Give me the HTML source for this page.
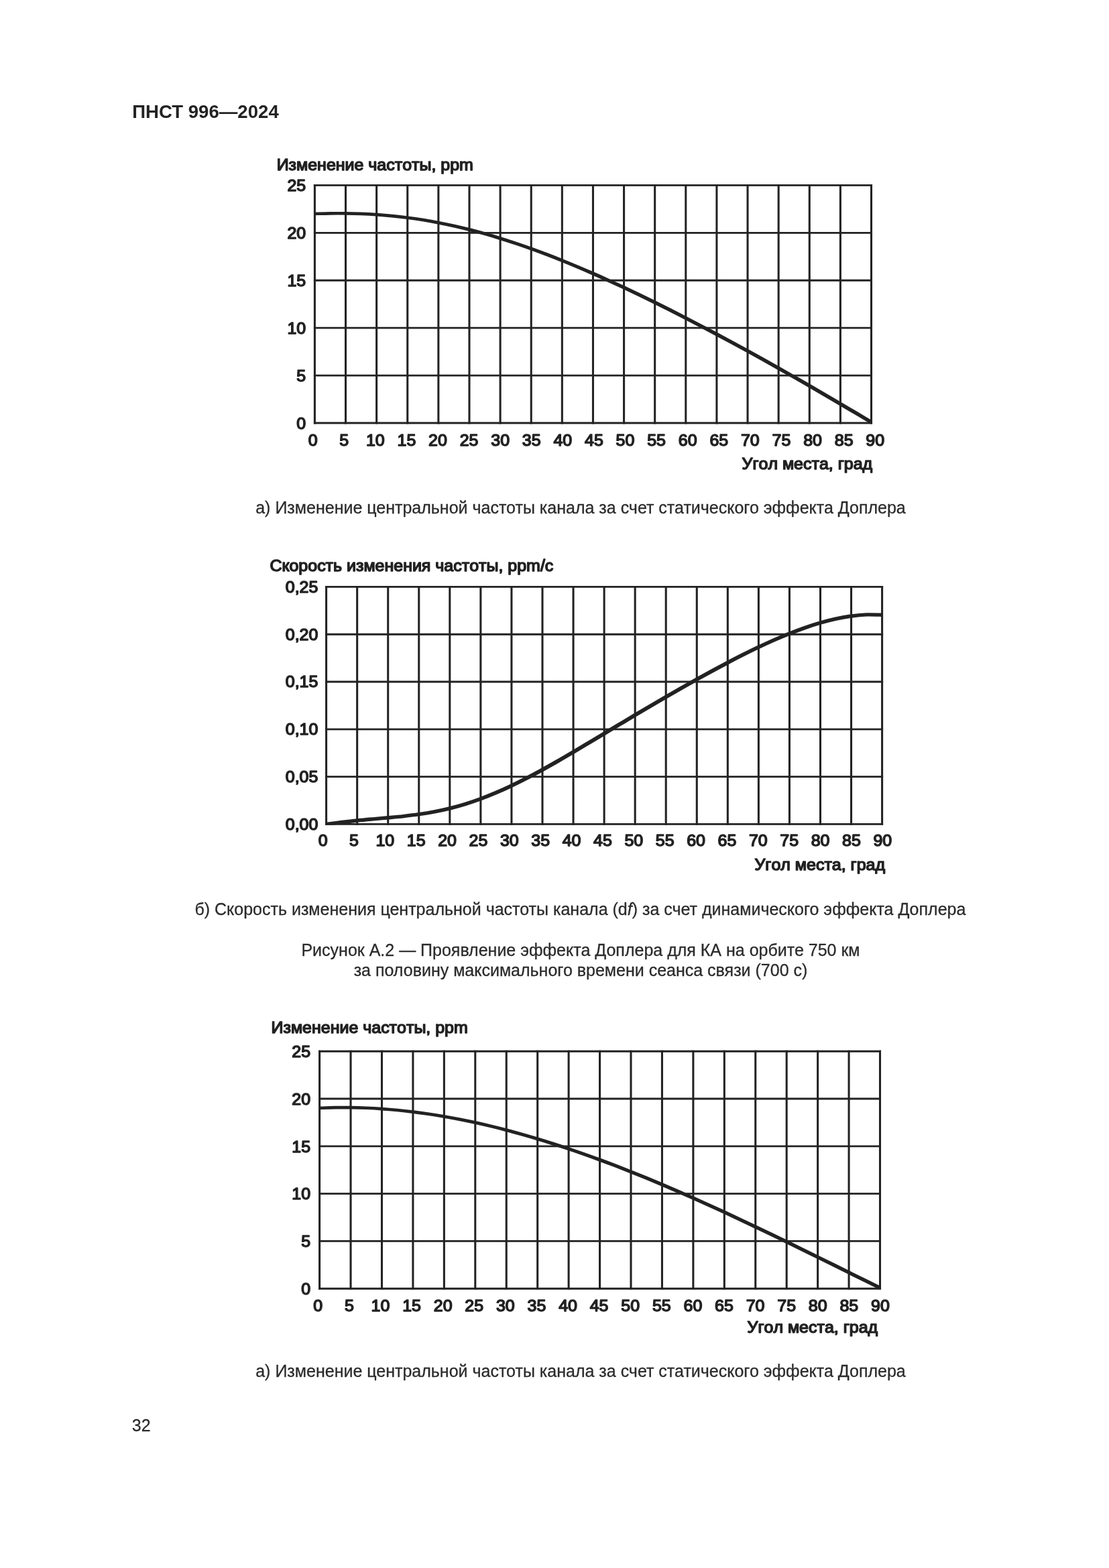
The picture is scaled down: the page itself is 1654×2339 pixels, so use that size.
<!DOCTYPE html>
<html lang="ru"><head><meta charset="utf-8"><title>ПНСТ 996—2024</title>
<style>
html,body{margin:0;padding:0;background:#fff}
body{width:1654px;height:2339px;position:relative;overflow:hidden;font-family:"Liberation Sans",sans-serif;color:#2b2b2b}
.t{position:absolute;white-space:nowrap;font-size:25px;line-height:30px;margin:0;-webkit-text-stroke:0.3px #2b2b2b}
.c{left:198px;width:1336px;text-align:center}
.hdr{left:197.2px;top:149.1px;font-weight:bold;font-size:27.6px;line-height:36px;color:#222;-webkit-text-stroke:0}
svg{position:absolute;left:0;top:0}
.ct{font-family:"Liberation Sans",sans-serif;font-size:24.0px;font-kerning:none;fill:#222;stroke:#222;stroke-width:1.5px;stroke-linejoin:round}
</style></head><body>
<div class="t hdr">ПНСТ 996—2024</div>
<svg width="1654" height="2339" viewBox="0 0 1654 2339">
<path d="M469.4 274.97V632.42M515.52 274.97V632.42M561.63 274.97V632.42M607.75 274.97V632.42M653.87 274.97V632.42M699.98 274.97V632.42M746.1 274.97V632.42M792.22 274.97V632.42M838.33 274.97V632.42M884.45 274.97V632.42M930.57 274.97V632.42M976.68 274.97V632.42M1022.8 274.97V632.42M1068.92 274.97V632.42M1115.03 274.97V632.42M1161.15 274.97V632.42M1207.27 274.97V632.42M1253.38 274.97V632.42M1299.5 274.97V632.42" fill="none" stroke="#222" stroke-width="3.05"/>
<path d="M467.88 276.4H1301.03M467.88 347.32H1301.03M467.88 418.24H1301.03M467.88 489.16H1301.03M467.88 560.08H1301.03M467.88 631H1301.03" fill="none" stroke="#222" stroke-width="2.85"/>
<clipPath id="clip276"><rect x="467.88" y="274.97" width="833.15" height="357.45"/></clipPath>
<g clip-path="url(#clip276)"><path transform="scale(1.6 1)" d="M293.37 318.85 C295.78 318.77 302.98 318.43 307.79 318.34 C312.59 318.25 317.39 318.24 322.2 318.33 C327 318.43 331.81 318.61 336.61 318.91 C341.41 319.21 346.22 319.62 351.02 320.14 C355.82 320.67 360.63 321.3 365.43 322.06 C370.24 322.82 375.04 323.7 379.84 324.7 C384.65 325.7 389.45 326.82 394.26 328.07 C399.06 329.31 403.86 330.68 408.67 332.17 C413.47 333.66 418.27 335.27 423.08 336.99 C427.88 338.71 432.69 340.56 437.49 342.51 C442.29 344.46 447.1 346.53 451.9 348.71 C456.7 350.88 461.51 353.17 466.31 355.55 C471.12 357.93 475.92 360.42 480.72 363 C485.53 365.58 490.33 368.26 495.14 371.02 C499.94 373.78 504.74 376.64 509.55 379.57 C514.35 382.51 519.15 385.53 523.96 388.62 C528.76 391.71 533.57 394.89 538.37 398.12 C543.17 401.36 547.98 404.67 552.78 408.04 C557.59 411.41 562.39 414.85 567.19 418.34 C572 421.83 576.8 425.38 581.6 428.98 C586.41 432.58 591.21 436.24 596.02 439.94 C600.82 443.64 605.62 447.4 610.43 451.19 C615.23 454.98 620.03 458.82 624.84 462.7 C629.64 466.58 634.45 470.5 639.25 474.46 C644.05 478.42 648.86 482.41 653.66 486.44 C658.47 490.47 663.27 494.54 668.07 498.63 C672.88 502.73 677.68 506.86 682.48 511.02 C687.29 515.18 692.09 519.38 696.9 523.6 C701.7 527.82 706.5 532.08 711.31 536.35 C716.11 540.63 720.91 544.94 725.72 549.28 C730.52 553.61 735.33 557.98 740.13 562.36 C744.93 566.75 749.74 571.16 754.54 575.6 C759.35 580.03 764.15 584.49 768.95 588.97 C773.76 593.45 778.56 597.95 783.36 602.46 C788.17 606.97 792.97 611.51 797.78 616.05 C802.58 620.59 809.79 627.43 812.19 629.71" fill="none" stroke="#222" stroke-width="4.7" stroke-linejoin="round"/></g>
<text class="ct" transform="translate(412.65 254.01) scale(1.041 1)">Изменение частоты, ppm</text>
<text class="ct" text-anchor="end" transform="translate(456.2 285.25) scale(1.041 1)">25</text>
<text class="ct" text-anchor="end" transform="translate(456.2 356.17) scale(1.041 1)">20</text>
<text class="ct" text-anchor="end" transform="translate(456.2 427.09) scale(1.041 1)">15</text>
<text class="ct" text-anchor="end" transform="translate(456.2 498.01) scale(1.041 1)">10</text>
<text class="ct" text-anchor="end" transform="translate(456.2 568.93) scale(1.041 1)">5</text>
<text class="ct" text-anchor="end" transform="translate(456.2 639.85) scale(1.041 1)">0</text>
<text class="ct" text-anchor="middle" transform="translate(466.6 665.2) scale(1.041 1)">0</text>
<text class="ct" text-anchor="middle" transform="translate(513.19 665.2) scale(1.041 1)">5</text>
<text class="ct" text-anchor="middle" transform="translate(559.78 665.2) scale(1.041 1)">10</text>
<text class="ct" text-anchor="middle" transform="translate(606.37 665.2) scale(1.041 1)">15</text>
<text class="ct" text-anchor="middle" transform="translate(652.96 665.2) scale(1.041 1)">20</text>
<text class="ct" text-anchor="middle" transform="translate(699.55 665.2) scale(1.041 1)">25</text>
<text class="ct" text-anchor="middle" transform="translate(746.14 665.2) scale(1.041 1)">30</text>
<text class="ct" text-anchor="middle" transform="translate(792.73 665.2) scale(1.041 1)">35</text>
<text class="ct" text-anchor="middle" transform="translate(839.32 665.2) scale(1.041 1)">40</text>
<text class="ct" text-anchor="middle" transform="translate(885.91 665.2) scale(1.041 1)">45</text>
<text class="ct" text-anchor="middle" transform="translate(932.5 665.2) scale(1.041 1)">50</text>
<text class="ct" text-anchor="middle" transform="translate(979.09 665.2) scale(1.041 1)">55</text>
<text class="ct" text-anchor="middle" transform="translate(1025.68 665.2) scale(1.041 1)">60</text>
<text class="ct" text-anchor="middle" transform="translate(1072.27 665.2) scale(1.041 1)">65</text>
<text class="ct" text-anchor="middle" transform="translate(1118.86 665.2) scale(1.041 1)">70</text>
<text class="ct" text-anchor="middle" transform="translate(1165.45 665.2) scale(1.041 1)">75</text>
<text class="ct" text-anchor="middle" transform="translate(1212.04 665.2) scale(1.041 1)">80</text>
<text class="ct" text-anchor="middle" transform="translate(1258.63 665.2) scale(1.041 1)">85</text>
<text class="ct" text-anchor="middle" transform="translate(1305.22 665.2) scale(1.041 1)">90</text>
<text class="ct" transform="translate(1106.56 700.12) scale(1.041 1)">Угол места, град</text>
<path d="M486.6 873.98V1230.83M532.66 873.98V1230.83M578.71 873.98V1230.83M624.77 873.98V1230.83M670.82 873.98V1230.83M716.88 873.98V1230.83M762.93 873.98V1230.83M808.99 873.98V1230.83M855.04 873.98V1230.83M901.1 873.98V1230.83M947.16 873.98V1230.83M993.21 873.98V1230.83M1039.27 873.98V1230.83M1085.32 873.98V1230.83M1131.38 873.98V1230.83M1177.43 873.98V1230.83M1223.49 873.98V1230.83M1269.54 873.98V1230.83M1315.6 873.98V1230.83" fill="none" stroke="#222" stroke-width="3.05"/>
<path d="M485.08 875.4H1317.12M485.08 946.2H1317.12M485.08 1017H1317.12M485.08 1087.8H1317.12M485.08 1158.6H1317.12M485.08 1229.4H1317.12" fill="none" stroke="#222" stroke-width="2.85"/>
<clipPath id="clip875"><rect x="485.08" y="873.98" width="832.05" height="356.85"/></clipPath>
<g clip-path="url(#clip875)"><path transform="scale(1.3 1)" d="M374.31 1229.37 C377.26 1228.89 386.12 1227.43 392.02 1226.54 C397.93 1225.64 403.83 1224.78 409.74 1223.99 C415.64 1223.2 421.54 1222.51 427.45 1221.81 C433.35 1221.12 439.26 1220.5 445.16 1219.79 C451.07 1219.08 456.97 1218.4 462.88 1217.55 C468.78 1216.7 474.69 1215.81 480.59 1214.69 C486.49 1213.58 492.4 1212.35 498.3 1210.87 C504.21 1209.39 510.11 1207.74 516.02 1205.83 C521.92 1203.92 527.83 1201.79 533.73 1199.42 C539.64 1197.05 545.54 1194.43 551.44 1191.6 C557.35 1188.77 563.25 1185.69 569.16 1182.43 C575.06 1179.16 580.97 1175.66 586.87 1172.02 C592.78 1168.37 598.68 1164.51 604.59 1160.55 C610.49 1156.58 616.39 1152.44 622.3 1148.23 C628.2 1144.01 634.11 1139.65 640.01 1135.26 C645.92 1130.86 651.82 1126.35 657.73 1121.84 C663.63 1117.32 669.54 1112.73 675.44 1108.14 C681.34 1103.55 687.25 1098.93 693.15 1094.32 C699.06 1089.71 704.96 1085.08 710.87 1080.48 C716.77 1075.88 722.68 1071.28 728.58 1066.72 C734.49 1062.15 740.39 1057.6 746.29 1053.08 C752.2 1048.57 758.1 1044.08 764.01 1039.63 C769.91 1035.18 775.82 1030.76 781.72 1026.38 C787.63 1022.01 793.53 1017.67 799.44 1013.4 C805.34 1009.12 811.25 1004.88 817.15 1000.71 C823.05 996.55 828.96 992.43 834.86 988.4 C840.77 984.38 846.67 980.41 852.58 976.56 C858.48 972.71 864.39 968.93 870.29 965.29 C876.2 961.65 882.1 958.11 888 954.74 C893.91 951.36 899.81 948.11 905.72 945.06 C911.62 942.01 917.53 939.1 923.43 936.43 C929.34 933.76 935.24 931.27 941.15 929.05 C947.05 926.84 952.95 924.83 958.86 923.15 C964.76 921.48 970.67 920.03 976.57 918.99 C982.48 917.95 988.38 917.18 994.29 916.9 C1000.19 916.62 1009.05 917.25 1012 917.32" fill="none" stroke="#222" stroke-width="5.4" stroke-linejoin="round"/></g>
<text class="ct" transform="translate(402.51 851.85) scale(1.041 1)">Скорость изменения частоты, ppm/c</text>
<text class="ct" text-anchor="end" transform="translate(474.4 883.85) scale(1.041 1)">0,25</text>
<text class="ct" text-anchor="end" transform="translate(474.4 954.65) scale(1.041 1)">0,20</text>
<text class="ct" text-anchor="end" transform="translate(474.4 1025.45) scale(1.041 1)">0,15</text>
<text class="ct" text-anchor="end" transform="translate(474.4 1096.25) scale(1.041 1)">0,10</text>
<text class="ct" text-anchor="end" transform="translate(474.4 1167.05) scale(1.041 1)">0,05</text>
<text class="ct" text-anchor="end" transform="translate(474.4 1237.85) scale(1.041 1)">0,00</text>
<text class="ct" text-anchor="middle" transform="translate(481.6 1262.35) scale(1.041 1)">0</text>
<text class="ct" text-anchor="middle" transform="translate(527.97 1262.35) scale(1.041 1)">5</text>
<text class="ct" text-anchor="middle" transform="translate(574.34 1262.35) scale(1.041 1)">10</text>
<text class="ct" text-anchor="middle" transform="translate(620.71 1262.35) scale(1.041 1)">15</text>
<text class="ct" text-anchor="middle" transform="translate(667.08 1262.35) scale(1.041 1)">20</text>
<text class="ct" text-anchor="middle" transform="translate(713.45 1262.35) scale(1.041 1)">25</text>
<text class="ct" text-anchor="middle" transform="translate(759.82 1262.35) scale(1.041 1)">30</text>
<text class="ct" text-anchor="middle" transform="translate(806.19 1262.35) scale(1.041 1)">35</text>
<text class="ct" text-anchor="middle" transform="translate(852.56 1262.35) scale(1.041 1)">40</text>
<text class="ct" text-anchor="middle" transform="translate(898.93 1262.35) scale(1.041 1)">45</text>
<text class="ct" text-anchor="middle" transform="translate(945.3 1262.35) scale(1.041 1)">50</text>
<text class="ct" text-anchor="middle" transform="translate(991.67 1262.35) scale(1.041 1)">55</text>
<text class="ct" text-anchor="middle" transform="translate(1038.04 1262.35) scale(1.041 1)">60</text>
<text class="ct" text-anchor="middle" transform="translate(1084.41 1262.35) scale(1.041 1)">65</text>
<text class="ct" text-anchor="middle" transform="translate(1130.78 1262.35) scale(1.041 1)">70</text>
<text class="ct" text-anchor="middle" transform="translate(1177.15 1262.35) scale(1.041 1)">75</text>
<text class="ct" text-anchor="middle" transform="translate(1223.52 1262.35) scale(1.041 1)">80</text>
<text class="ct" text-anchor="middle" transform="translate(1269.89 1262.35) scale(1.041 1)">85</text>
<text class="ct" text-anchor="middle" transform="translate(1316.26 1262.35) scale(1.041 1)">90</text>
<text class="ct" transform="translate(1125.48 1298.05) scale(1.041 1)">Угол места, град</text>
<path d="M476.6 1566.78V1923.62M523.04 1566.78V1923.62M569.48 1566.78V1923.62M615.92 1566.78V1923.62M662.36 1566.78V1923.62M708.79 1566.78V1923.62M755.23 1566.78V1923.62M801.67 1566.78V1923.62M848.11 1566.78V1923.62M894.55 1566.78V1923.62M940.99 1566.78V1923.62M987.43 1566.78V1923.62M1033.87 1566.78V1923.62M1080.31 1566.78V1923.62M1126.74 1566.78V1923.62M1173.18 1566.78V1923.62M1219.62 1566.78V1923.62M1266.06 1566.78V1923.62M1312.5 1566.78V1923.62" fill="none" stroke="#222" stroke-width="3.05"/>
<path d="M475.08 1568.2H1314.03M475.08 1639H1314.03M475.08 1709.8H1314.03M475.08 1780.6H1314.03M475.08 1851.4H1314.03M475.08 1922.2H1314.03" fill="none" stroke="#222" stroke-width="2.85"/>
<clipPath id="clip1568"><rect x="475.08" y="1566.78" width="838.95" height="356.85"/></clipPath>
<g clip-path="url(#clip1568)"><path transform="scale(1.6 1)" d="M297.88 1652.93 C300.29 1652.81 307.55 1652.32 312.39 1652.19 C317.22 1652.06 322.06 1652.05 326.9 1652.15 C331.74 1652.25 336.57 1652.46 341.41 1652.78 C346.25 1653.11 351.09 1653.54 355.92 1654.08 C360.76 1654.62 365.6 1655.27 370.44 1656.01 C375.27 1656.76 380.11 1657.62 384.95 1658.57 C389.79 1659.52 394.62 1660.58 399.46 1661.72 C404.3 1662.87 409.13 1664.12 413.97 1665.46 C418.81 1666.8 423.65 1668.23 428.48 1669.75 C433.32 1671.27 438.16 1672.89 443 1674.58 C447.83 1676.28 452.67 1678.07 457.51 1679.93 C462.35 1681.8 467.18 1683.75 472.02 1685.78 C476.86 1687.81 481.7 1689.92 486.53 1692.1 C491.37 1694.28 496.21 1696.54 501.05 1698.87 C505.88 1701.21 510.72 1703.61 515.56 1706.08 C520.39 1708.56 525.23 1711.1 530.07 1713.71 C534.91 1716.31 539.74 1718.99 544.58 1721.73 C549.42 1724.46 554.26 1727.26 559.09 1730.12 C563.93 1732.97 568.77 1735.89 573.61 1738.86 C578.44 1741.83 583.28 1744.86 588.12 1747.93 C592.96 1751.01 597.79 1754.14 602.63 1757.32 C607.47 1760.5 612.3 1763.73 617.14 1767 C621.98 1770.27 626.82 1773.59 631.65 1776.95 C636.49 1780.31 641.33 1783.71 646.17 1787.15 C651 1790.59 655.84 1794.07 660.68 1797.58 C665.52 1801.09 670.35 1804.64 675.19 1808.22 C680.03 1811.8 684.87 1815.41 689.7 1819.05 C694.54 1822.69 699.38 1826.36 704.22 1830.05 C709.05 1833.74 713.89 1837.45 718.73 1841.19 C723.56 1844.92 728.4 1848.68 733.24 1852.45 C738.08 1856.22 742.91 1860.01 747.75 1863.81 C752.59 1867.6 757.43 1871.42 762.26 1875.24 C767.1 1879.05 771.94 1882.88 776.78 1886.71 C781.61 1890.54 786.45 1894.38 791.29 1898.21 C796.13 1902.04 800.96 1905.88 805.8 1909.7 C810.64 1913.52 817.89 1919.24 820.31 1921.15" fill="none" stroke="#222" stroke-width="4.7" stroke-linejoin="round"/></g>
<text class="ct" transform="translate(404.54 1540.85) scale(1.041 1)">Изменение частоты, ppm</text>
<text class="ct" text-anchor="end" transform="translate(463.1 1576.95) scale(1.041 1)">25</text>
<text class="ct" text-anchor="end" transform="translate(463.1 1647.75) scale(1.041 1)">20</text>
<text class="ct" text-anchor="end" transform="translate(463.1 1718.55) scale(1.041 1)">15</text>
<text class="ct" text-anchor="end" transform="translate(463.1 1789.35) scale(1.041 1)">10</text>
<text class="ct" text-anchor="end" transform="translate(463.1 1860.15) scale(1.041 1)">5</text>
<text class="ct" text-anchor="end" transform="translate(463.1 1930.95) scale(1.041 1)">0</text>
<text class="ct" text-anchor="middle" transform="translate(474.3 1956.05) scale(1.041 1)">0</text>
<text class="ct" text-anchor="middle" transform="translate(520.89 1956.05) scale(1.041 1)">5</text>
<text class="ct" text-anchor="middle" transform="translate(567.48 1956.05) scale(1.041 1)">10</text>
<text class="ct" text-anchor="middle" transform="translate(614.07 1956.05) scale(1.041 1)">15</text>
<text class="ct" text-anchor="middle" transform="translate(660.66 1956.05) scale(1.041 1)">20</text>
<text class="ct" text-anchor="middle" transform="translate(707.25 1956.05) scale(1.041 1)">25</text>
<text class="ct" text-anchor="middle" transform="translate(753.84 1956.05) scale(1.041 1)">30</text>
<text class="ct" text-anchor="middle" transform="translate(800.43 1956.05) scale(1.041 1)">35</text>
<text class="ct" text-anchor="middle" transform="translate(847.02 1956.05) scale(1.041 1)">40</text>
<text class="ct" text-anchor="middle" transform="translate(893.61 1956.05) scale(1.041 1)">45</text>
<text class="ct" text-anchor="middle" transform="translate(940.2 1956.05) scale(1.041 1)">50</text>
<text class="ct" text-anchor="middle" transform="translate(986.79 1956.05) scale(1.041 1)">55</text>
<text class="ct" text-anchor="middle" transform="translate(1033.38 1956.05) scale(1.041 1)">60</text>
<text class="ct" text-anchor="middle" transform="translate(1079.97 1956.05) scale(1.041 1)">65</text>
<text class="ct" text-anchor="middle" transform="translate(1126.56 1956.05) scale(1.041 1)">70</text>
<text class="ct" text-anchor="middle" transform="translate(1173.15 1956.05) scale(1.041 1)">75</text>
<text class="ct" text-anchor="middle" transform="translate(1219.74 1956.05) scale(1.041 1)">80</text>
<text class="ct" text-anchor="middle" transform="translate(1266.33 1956.05) scale(1.041 1)">85</text>
<text class="ct" text-anchor="middle" transform="translate(1312.92 1956.05) scale(1.041 1)">90</text>
<text class="ct" transform="translate(1114.56 1988.12) scale(1.041 1)">Угол места, град</text>
</svg>
<p class="t c" style="top:742px">а) Изменение центральной частоты канала за счет статического эффекта Доплера</p>
<p class="t c" style="top:1341.3px;left:197.4px">б) Скорость изменения центральной частоты канала (d<i>f</i>) за счет динамического эффекта Доплера</p>
<p class="t c" style="top:1402px">Рисунок А.2 — Проявление эффекта Доплера для КА на орбите 750 км</p>
<p class="t c" style="top:1431.9px">за половину максимального времени сеанса связи (700 с)</p>
<p class="t c" style="top:2030px">а) Изменение центральной частоты канала за счет статического эффекта Доплера</p>
<p class="t" style="left:196.8px;top:2111.4px">32</p>
</body></html>
